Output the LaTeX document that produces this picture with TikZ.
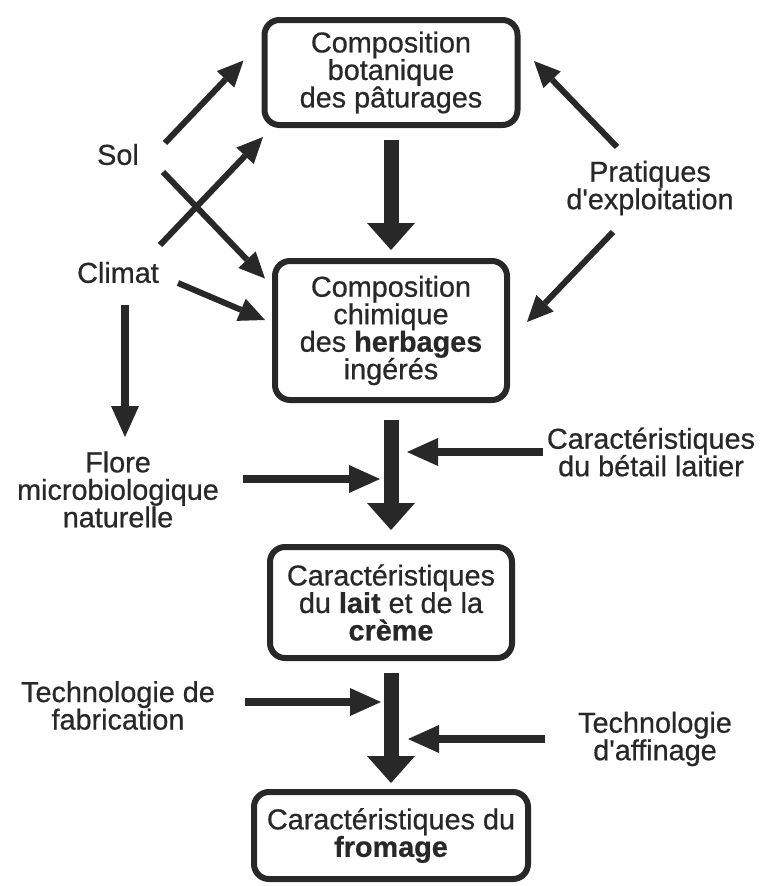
\documentclass[tikz,border=0pt]{standalone}
\usepackage{fontspec}
\newfontfamily\diagfont{Liberation Sans}[FakeBold=0.6]
\usetikzlibrary{arrows.meta,positioning}
\definecolor{ink}{RGB}{40,40,40}

\begin{document}
\begin{tikzpicture}[x=1pt,y=-1pt,on grid,
    every node/.style={text=ink,font=\diagfont\fontsize{28.8}{27.5}\selectfont,align=center,inner sep=4pt},
    stage/.style={draw=ink,line width=6pt,rounded corners=15pt,inner sep=6pt},
    flow/.style={draw=ink,line width=15pt,-{Triangle[length=27pt,width=48pt,line width=0pt]}},
    infl/.style={draw=ink,line width=6pt,-{Triangle[length=26pt,width=24pt,line width=0pt]}},
    feed/.style={draw=ink,line width=8pt,-{Triangle[length=31pt,width=28pt,line width=0pt]}}]
  \useasboundingbox[fill=white] (0,0) rectangle (760,886);

  \node[stage,minimum width=253pt,minimum height=105pt] (bota) at (391,72.5) {Composition\\botanique\\des pâturages};
  \node[stage,minimum width=232pt,minimum height=139pt] (chim) [below=258pt of bota] {Composition\\chimique\\des \textbf{herbages}\\ingérés};
  \node[stage,minimum width=242pt,minimum height=111pt] (lait) [below=272pt of chim] {Caractéristiques\\du \textbf{lait} et de la\\\textbf{crème}};
  \node[stage,minimum width=274pt,minimum height=87pt] (from) [below=233pt of lait] {Caractéristiques du\\\textbf{fromage}};

  \node (sol) [below left=82pt and 273pt of bota] {Sol};
  \node (climat) [below=118pt of sol] {Climat};
  \node (flore) [below=217pt of climat] {Flore\\microbiologique\\naturelle};
  \node (techfab) [below=216pt of flore] {Technologie de\\fabrication};
  \node (prat) [below right=115.5pt and 259pt of bota] {Pratiques\\d'exploitation};
  \node (betail) [below right=121.5pt and 260pt of chim] {Caractéristiques\\du bétail laitier};
  \node (affin) [below right=136.5pt and 264pt of lait] {Technologie\\d'affinage};

  \draw[flow,shorten <=12pt,shorten >=8pt] (bota) -- (chim);
  \draw[flow,shorten <=17pt,shorten >=14pt] (chim) -- (lait);
  \draw[flow,shorten <=12pt,shorten >=6pt] (lait) -- (from);

  \draw[infl] ([shift={(47,-11.5)}]sol.center) -- ([shift={(-18,-12)}]bota.west);
  \draw[infl] ([shift={(45,17.5)}]sol.center) -- ([shift={(-7,-52)}]chim.west);
  \draw[infl] ([shift={(42,-27.5)}]climat.center) -- ([shift={(1.5,9)}]bota.south west);
  \draw[infl] ([shift={(60,10.5)}]climat.center) -- ([shift={(-7,-10.5)}]chim.west);
  \draw[infl] ([shift={(-33,-41)}]prat.center) -- ([shift={(13.5,-11.5)}]bota.east);
  \draw[infl] ([shift={(-37,44)}]prat.center) -- ([shift={(17,-8.5)}]chim.east);

  \draw[feed] ([shift={(7,32.5)}]climat.center) -- ([shift={(7,-52.5)}]flore.center);
  \draw[feed] ([shift={(125,-10.5)}]flore.center) -- ([shift={(-11,-65)}]lait.north);
  \draw[feed] ([shift={(-108,0)}]betail.center) -- ([shift={(16,-92)}]lait.north);
  \draw[feed] ([shift={(127,-3.5)}]techfab.center) -- ([shift={(-10,-87)}]from.north);
  \draw[feed] ([shift={(-110,0)}]affin.center) -- ([shift={(17,-50)}]from.north);
\end{tikzpicture}
\end{document}
